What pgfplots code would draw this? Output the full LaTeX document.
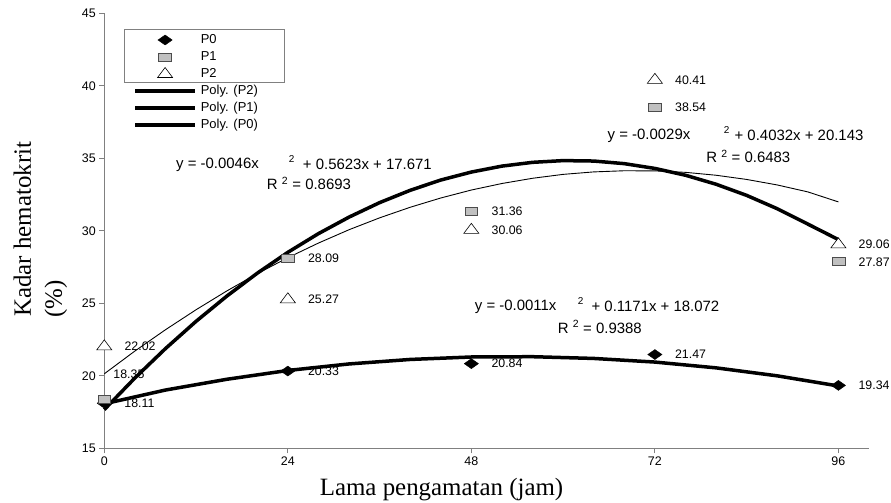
\documentclass[border=0pt]{standalone}
\usepackage{pgfplots}
\pgfplotsset{compat=1.18}
\usepackage{fontspec}
\setmainfont{Liberation Sans}
\newfontfamily\timesfont{Liberation Serif}
\definecolor{axgray}{HTML}{808080}
\definecolor{sqgray}{HTML}{C0C0C0}
\pgfplotsset{
  markleg/.style={legend image code/.code={\draw[mark repeat=2,mark phase=2,##1] plot coordinates {(0bp,0bp) (30bp,0bp) (60bp,0bp)};}},
  lineleg/.style={legend image code/.code={\draw[black, line width=3.5bp] (0bp,0bp) -- (60bp,0bp);}},
}
\begin{document}
\begin{tikzpicture}
\begin{axis}[
  scale only axis, width=764.7bp, height=434.8bp,
  xmin=0, xmax=100, ymin=15, ymax=45,
  axis lines*=left,
  axis line style={draw=axgray, line width=1.1pt},
  xtick={0,24,48,72,96}, ytick={15,20,25,30,35,40,45},
  tick align=outside, major tick length=5bp,
  tick style={draw=axgray, line width=1pt},
  ticklabel style={font=\fontsize{12.5}{14}\selectfont},
  /pgf/number format/assume math mode=true,
  clip=false,
  legend cell align=left,
  legend style={at={(axis description cs:0.038,0.954)}, anchor=north west,
    draw=none, fill=none, inner sep=0pt, outer sep=0pt,
    row sep=4bp, column sep=4bp,
    font=\fontsize{13}{15}\selectfont,
    nodes={inner sep=0pt, text height=10bp, text depth=3bp}},
  nodes near coords style={anchor=west, xshift=20bp, inner sep=0pt,
    font=\fontsize{12.4}{14}\selectfont, text=black},
]
% P0
\addplot[only marks, mark=diamond*, mark size=5bp,
  mark options={draw=black, fill=black, xscale=1.9},
  nodes near coords, point meta=explicit symbolic, markleg]
  table[meta=label] {
x y label
0 18.11 18.11
24 20.33 20.33
48 20.84 20.84
72 21.47 21.47
96 19.34 19.34
};
\addlegendentry{P0}
% P1
\addplot[only marks, mark=square*, mark size=4bp,
  mark options={draw=black!70, fill=sqgray, xscale=1.6, line width=0.6pt},
  nodes near coords, point meta=explicit symbolic, markleg]
  table[meta=label] {
x y label
0 18.35 {}
24 28.09 28.09
48 31.36 31.36
72 38.54 38.54
96 27.87 27.87
};
\addlegendentry{P1}
% P2
\addplot[only marks, mark=triangle*, mark size=6.7bp,
  mark options={draw=black, fill=white, xscale=1.3, line width=0.6pt},
  nodes near coords, point meta=explicit symbolic, markleg]
  table[meta=label] {
x y label
0 22.02 22.02
24 25.27 25.27
48 30.06 30.06
72 40.41 40.41
96 29.06 29.06
};
\addlegendentry{P2}
% Poly (P2) thin
\addplot[black, line width=0.9pt, no marks, lineleg]
  coordinates {
(0,20.14) (4,21.71) (8,23.18) (12,24.56) (16,25.85) (20,27.05) (24,28.15)
(28,29.16) (32,30.08) (36,30.90) (40,31.63) (44,32.27) (48,32.82) (52,33.27)
(56,33.63) (60,33.90) (64,34.07) (68,34.15) (72,34.14) (76,34.04) (80,33.84)
(84,33.55) (88,33.17) (92,32.69) (96,32.00)
};
\addlegendentry{Poly. (P2)}
% Poly (P1) thick
\addplot[black, line width=3.5bp, no marks, lineleg]
  coordinates {
(0,17.67) (4,19.85) (8,21.88) (12,23.76) (16,25.49) (20,27.08) (24,28.52)
(28,29.81) (32,30.95) (36,31.95) (40,32.80) (44,33.51) (48,34.06) (52,34.47)
(56,34.73) (60,34.85) (64,34.82) (68,34.64) (72,34.31) (76,33.84) (80,33.22)
(84,32.45) (88,31.53) (92,30.47) (96,29.40)
};
\addlegendentry{Poly. (P1)}
% Poly (P0) thick
\addplot[black, line width=3.5bp, no marks, lineleg]
  coordinates {
(0,18.07) (8,19.02) (16,19.76) (24,20.37) (32,20.82) (40,21.13) (48,21.30)
(56,21.32) (64,21.20) (72,20.95) (80,20.55) (88,20.00) (96,19.30)
};
\addlegendentry{Poly. (P0)}

% separate label for P1 at 0
\node[anchor=west, inner sep=0pt, font=\fontsize{12.4}{14}\selectfont]
  at (axis cs:0,18.35) [xshift=9bp, yshift=25bp] {18.35};

% legend box around marker entries
\draw[draw=axgray, line width=0.9pt] (axis description cs:0.027,0.964) rectangle (axis description cs:0.235,0.8425);

% equations
\begin{scope}[every node/.style={anchor=west, inner sep=0pt, font=\fontsize{15}{17}\selectfont}]
\node at (axis cs:9.37,34.57) {y = -0.0046x};
\node[font=\fontsize{10}{12}\selectfont] at (axis cs:24.1,34.95) {2};
\node at (axis cs:25.95,34.57) {+ 0.5623x + 17.671};
\node at (axis cs:21.25,33.25) {R \textsuperscript{2} = 0.8693};

\node at (axis cs:65.8,36.57) {y = -0.0029x};
\node[font=\fontsize{10}{12}\selectfont] at (axis cs:81.0,36.95) {2};
\node at (axis cs:82.4,36.57) {+ 0.4032x + 20.143};
\node at (axis cs:78.7,35.12) {R \textsuperscript{2} = 0.6483};

\node at (axis cs:48.44,24.76) {y = -0.0011x};
\node[font=\fontsize{10}{12}\selectfont] at (axis cs:61.9,25.14) {2};
\node at (axis cs:63.7,24.76) {+ 0.1171x + 18.072};
\node at (axis cs:59.28,23.38) {R \textsuperscript{2} = 0.9388};
\end{scope}

% axis titles
\node[rotate=90, anchor=base west, inner sep=0pt, font=\timesfont\fontsize{25}{30}\selectfont]
  at (axis description cs:-0.09585,0.30198) {Kadar hematokrit};
\node[rotate=90, anchor=base west, inner sep=0pt, font=\timesfont\fontsize{25}{30}\selectfont]
  at (axis description cs:-0.05532,0.29968) {(\%)};
\node[font=\timesfont\fontsize{25}{30}\selectfont]
  at (axis description cs:0.441,-0.0959) {Lama pengamatan (jam)};

\coordinate (bbsw) at (axis description cs:-0.13639,-0.1258);
\coordinate (bbne) at (axis description cs:1.02877,1.03105);
\end{axis}
\pgfresetboundingbox
\path[use as bounding box] (bbsw) rectangle (bbne);
\end{tikzpicture}
\end{document}
